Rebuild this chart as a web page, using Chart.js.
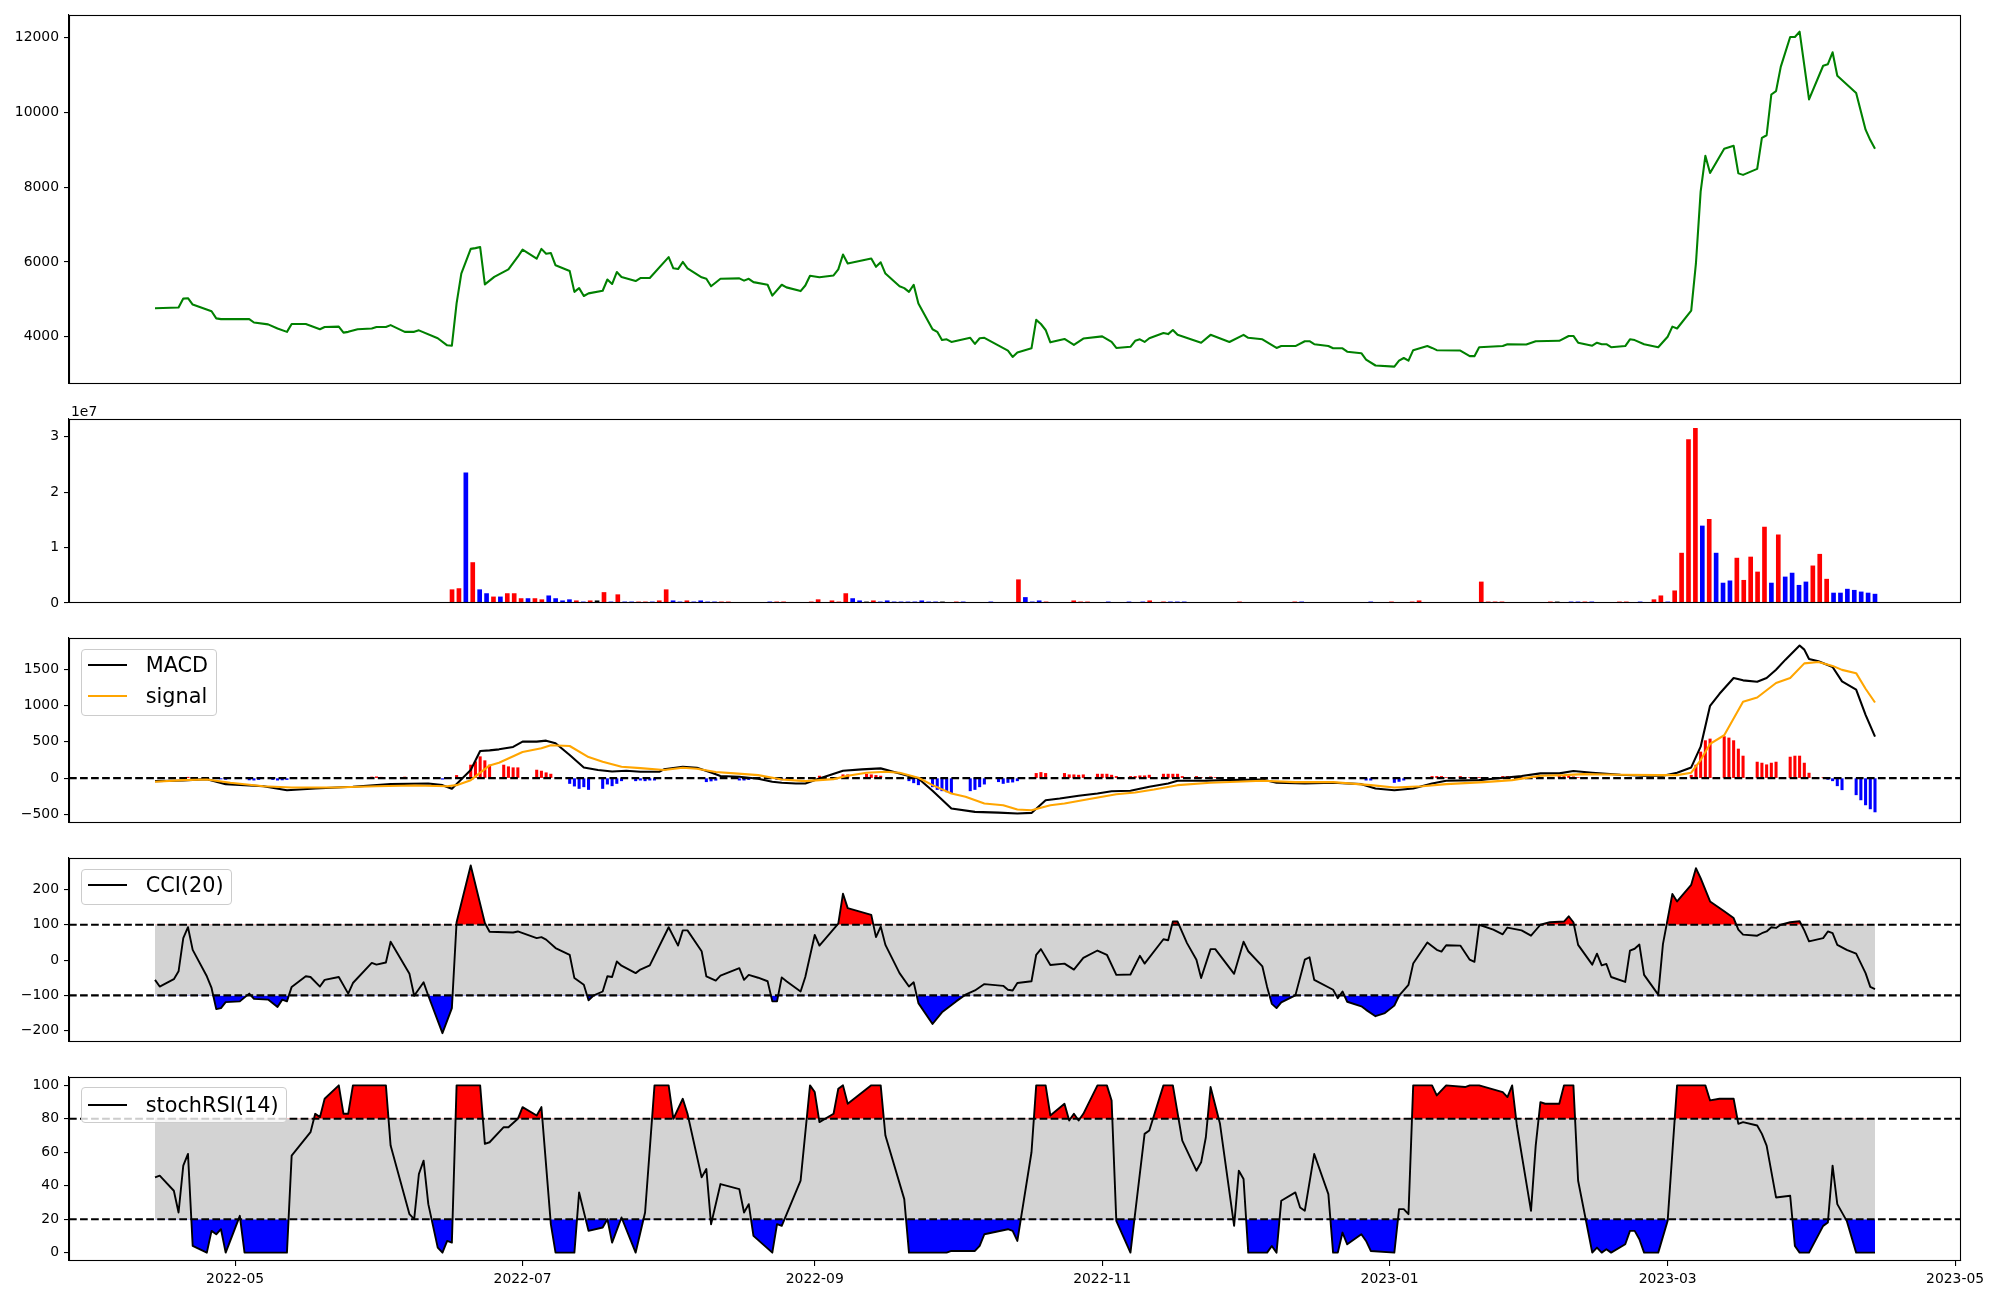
<!DOCTYPE html>
<html><head><meta charset="utf-8">
<script src="https://cdn.jsdelivr.net/npm/chart.js@4.4.0/dist/chart.umd.min.js"></script>
<style>
html,body{margin:0;padding:0;background:#fff;width:2000px;height:1300px;overflow:hidden;position:relative;font-family:'DejaVu Sans',sans-serif;}
canvas{position:absolute;left:0;}
.legend{position:absolute;border:1px solid #cccccc;border-radius:4px;background:rgba(255,255,255,0.8);box-sizing:border-box;}
.lg-line{position:absolute;}
.lg-text{position:absolute;font-size:20.8px;line-height:24px;white-space:nowrap;color:#000;}
.offset{position:absolute;font-size:13.9px;line-height:16px;color:#000;}
</style></head><body>
<script>
// ---------------- DATA ----------------
// day numbers are days since BASE_DATE
const BASE_DATE = '2022-05-01';
const xTickDays = [0, 61, 123, 184, 245, 304, 365];
const xTickLabels = ['2022-05', '2022-07', '2022-09', '2022-11', '2023-01', '2023-03', '2023-05'];

const priceDay = [-17,-12,-11,-10,-9,-5,-4,-3,3,4,7,9,11,12,15,18,19,22,23,24,26,29,30,32,33,36,38,39,43,45,46,47,48,50,51,52,53,55,58,60,61,64,65,66,67,68,71,72,73,74,75,78,79,80,81,82,85,86,88,92,93,94,95,96,99,100,101,103,107,108,109,110,113,114,116,117,120,121,122,124,127,128,129,130,135,136,137,138,141,142,143,144,145,148,149,150,151,152,156,157,158,159,164,165,166,169,170,171,172,173,176,178,180,184,186,187,190,191,192,193,194,197,198,199,200,205,207,211,214,215,218,221,222,225,227,228,229,232,233,235,236,239,240,242,246,247,248,249,250,253,254,255,260,262,263,264,269,270,274,276,281,283,284,285,288,289,290,291,292,295,296,297,299,302,304,305,306,309,310,311,312,313,316,318,319,320,323,324,325,326,327,328,330,331,332,334,337,338,339,340,344,346,347,348];
const priceVal = [4760,4780,5020,5030,4860,4680,4490,4470,4470,4380,4330,4220,4130,4340,4340,4200,4260,4270,4110,4130,4200,4220,4260,4260,4310,4130,4130,4170,3960,3770,3760,4890,5690,6350,6370,6400,5400,5600,5800,6140,6330,6090,6350,6220,6240,5910,5760,5200,5300,5090,5160,5230,5530,5410,5730,5600,5490,5570,5570,6130,5830,5810,6000,5830,5590,5550,5350,5550,5560,5500,5550,5460,5390,5100,5390,5320,5220,5370,5630,5590,5640,5800,6200,5960,6090,5870,5990,5690,5350,5300,5200,5390,4890,4200,4130,3910,3930,3860,3970,3810,3960,3970,3630,3460,3580,3690,4450,4340,4180,3850,3940,3780,3950,4010,3860,3700,3730,3890,3930,3860,3960,4100,4070,4180,4050,3840,4050,3860,4050,3970,3930,3700,3750,3750,3880,3880,3800,3750,3690,3690,3600,3560,3390,3230,3200,3360,3430,3360,3640,3750,3700,3640,3630,3480,3480,3720,3750,3800,3790,3880,3890,4020,4020,3840,3760,3840,3800,3800,3720,3750,3930,3910,3800,3720,4000,4270,4220,4700,5960,7880,8840,8380,9030,9110,8370,8330,8490,9320,9390,10480,10570,11220,12020,12020,12160,10350,11250,11290,11610,10980,10520,9540,9260,9030];

// volume panel is plotted against the trading-day index (0 .. volCount-1)
const volCount = 250;
const volIndex = [43,44,45,46,47,48,49,50,51,52,53,54,55,56,57,58,59,60,61,62,63,64,65,66,67,68,69,70,71,72,73,74,75,76,77,78,79,80,81,82,83,89,90,91,95,96,98,99,100,101,102,103,104,105,106,107,108,109,110,111,112,113,114,116,117,121,125,126,127,128,129,133,134,135,138,141,143,144,146,147,148,149,157,165,166,176,179,182,183,192,193,194,195,202,203,205,206,207,208,212,213,215,217,218,219,220,221,222,223,224,225,226,227,228,229,230,231,232,233,234,235,236,237,238,239,240,241,242,243,244,245,246,247,248,249];
const volValue = [2.4e6,2.6e6,23.5e6,7.3e6,2.4e6,1.7e6,1.1e6,1.1e6,1.7e6,1.7e6,0.8e6,0.8e6,0.8e6,0.6e6,1.3e6,0.8e6,0.4e6,0.6e6,0.4e6,0.2e6,0.4e6,0.4e6,1.9e6,0.2e6,1.5e6,0.2e6,0.2e6,0.2e6,0.2e6,0.2e6,0.4e6,2.4e6,0.4e6,0.2e6,0.4e6,0.2e6,0.4e6,0.2e6,0.2e6,0.2e6,0.2e6,0.2e6,0.2e6,0.2e6,0.2e6,0.6e6,0.4e6,0.2e6,1.7e6,0.8e6,0.4e6,0.2e6,0.4e6,0.2e6,0.4e6,0.2e6,0.2e6,0.2e6,0.2e6,0.4e6,0.2e6,0.2e6,0.2e6,0.2e6,0.2e6,0.2e6,4.2e6,1.0e6,0.2e6,0.4e6,0.2e6,0.4e6,0.2e6,0.2e6,0.2e6,0.2e6,0.2e6,0.4e6,0.2e6,0.2e6,0.2e6,0.2e6,0.2e6,0.2e6,0.2e6,0.2e6,0.2e6,0.2e6,0.4e6,3.8e6,0.2e6,0.2e6,0.2e6,0.2e6,0.2e6,0.2e6,0.2e6,0.2e6,0.2e6,0.2e6,0.2e6,0.2e6,0.6e6,1.3e6,0.2e6,2.2e6,9.0e6,29.5e6,31.5e6,13.9e6,15.1e6,9.0e6,3.6e6,4.0e6,8.1e6,4.1e6,8.3e6,5.6e6,13.7e6,3.6e6,12.3e6,4.7e6,5.4e6,3.2e6,3.8e6,6.7e6,8.8e6,4.3e6,1.8e6,1.8e6,2.5e6,2.3e6,2.0e6,1.8e6,1.6e6];
// 1 = up (red), -1 = down (blue), 0 = unchanged (black)
const volDir = [1,1,-1,1,-1,-1,1,-1,1,1,1,-1,1,1,-1,-1,-1,-1,1,-1,1,0,1,-1,1,-1,-1,1,1,-1,1,1,-1,-1,1,-1,-1,-1,-1,1,1,-1,1,1,1,1,1,1,1,-1,-1,0,1,-1,-1,-1,-1,-1,-1,-1,-1,-1,0,1,-1,-1,1,-1,-1,-1,1,1,1,1,-1,-1,-1,1,1,-1,-1,-1,1,1,-1,-1,1,1,1,1,1,1,1,1,0,-1,-1,1,-1,1,1,-1,1,1,-1,1,1,1,1,-1,1,-1,-1,-1,1,1,1,1,1,-1,1,-1,-1,-1,-1,1,1,1,-1,-1,-1,-1,-1,-1,-1];

const macdDay = [-17,-11,-6,-2,6,11,17,25,33,41,44,46,50,52,54,56,59,61,64,66,68,71,74,77,80,83,86,90,91,95,98,101,103,107,111,114,116,119,121,124,129,133,137,141,145,148,152,157,162,166,169,172,175,179,183,186,190,194,198,200,206,210,218,221,227,233,239,242,246,250,254,257,264,267,273,277,281,284,288,294,299,303,306,309,311,313,315,318,320,323,325,327,329,332,333,334,336,339,341,344,346,348];
const macdVal = [-41,-32,-14,-83,-111,-166,-143,-120,-83,-74,-97,-147,111,373,382,396,429,502,502,516,479,318,147,111,92,101,88,88,120,157,143,78,28,18,-9,-51,-65,-74,-74,-5,101,120,134,65,-5,-175,-419,-465,-475,-488,-479,-304,-281,-244,-212,-180,-175,-120,-74,-37,-37,-28,-18,-65,-74,-65,-83,-143,-166,-143,-74,-37,-28,-9,28,65,65,97,74,46,32,32,74,147,433,995,1161,1378,1346,1327,1378,1493,1631,1825,1769,1640,1608,1530,1332,1217,871,571];

const signalDay = [-17,-11,-6,-1,6,12,21,30,38,45,47,50,54,56,61,65,67,71,75,78,82,86,91,95,98,102,106,111,116,121,124,127,130,134,138,141,145,148,152,155,159,163,166,169,173,176,181,187,191,195,200,207,218,225,233,241,246,252,257,265,271,277,282,286,294,302,306,309,311,313,316,320,323,327,330,333,336,339,341,344,346,348];
const signalVal = [-51,-28,-18,-65,-111,-129,-129,-111,-101,-111,-97,-28,175,212,359,410,452,442,290,226,157,138,111,143,129,83,65,41,-18,-41,-28,-14,32,74,88,74,5,-97,-212,-258,-350,-373,-433,-442,-373,-350,-290,-221,-198,-157,-97,-65,-37,-55,-55,-97,-129,-111,-83,-55,-28,32,41,55,46,41,41,74,249,470,590,1050,1110,1310,1378,1580,1598,1545,1490,1445,1230,1041];

const histDay = [-11,-10,-9,-3,-2,3,4,5,8,9,10,11,29,30,31,36,44,47,50,51,52,53,54,57,58,59,60,64,65,66,67,71,72,73,74,75,78,79,80,81,82,85,86,87,88,89,100,101,102,107,108,109,115,116,117,124,129,130,134,135,136,137,143,144,145,148,149,150,151,152,156,157,158,159,162,163,164,165,166,169,170,171,172,176,177,178,179,180,183,184,185,186,187,190,191,192,193,194,197,198,199,200,201,204,205,207,208,240,241,246,247,248,253,254,255,256,257,260,261,262,264,269,270,271,272,273,276,277,281,282,283,284,285,309,310,311,312,313,316,317,318,319,320,323,324,325,326,327,330,331,332,333,334,337,338,339,340,341,344,345,346,347,348];
const histVal = [10,12,10,-12,-18,-25,-28,-20,-20,-28,-25,-20,15,18,12,15,-15,37,180,226,295,240,180,180,157,143,143,111,97,74,55,-74,-110,-143,-120,-157,-143,-83,-106,-74,-37,-37,-28,-37,-28,-28,-50,-40,-30,-28,-28,-20,-20,-25,-20,28,46,46,55,46,37,28,-37,-65,-92,-120,-157,-175,-189,-203,-175,-157,-120,-83,-50,-74,-60,-55,-37,9,65,78,65,65,46,46,41,46,55,55,55,41,23,23,23,32,32,41,55,55,55,55,23,23,9,18,9,-28,-28,-60,-46,-28,9,23,23,23,9,23,9,9,9,23,23,23,23,9,23,9,23,23,32,18,9,40,180,360,516,539,572,553,516,401,304,221,207,184,207,221,290,304,304,207,69,5,-18,-37,-106,-161,-230,-300,-369,-424,-466];

const cciDay = [-17,-16,-13,-12,-11,-10,-9,-6,-5,-4,-3,-2,1,3,4,7,9,10,11,12,15,16,18,19,22,24,25,29,30,32,33,37,38,40,41,44,46,47,50,53,54,59,60,64,65,66,68,71,72,74,75,76,78,79,80,81,82,85,86,88,92,94,95,96,99,100,102,103,107,108,109,111,113,114,115,116,117,120,121,123,124,128,129,130,135,136,137,138,141,143,144,145,148,150,153,155,157,159,163,164,165,166,169,170,171,173,176,178,180,183,185,187,190,192,193,197,198,199,200,202,204,205,207,208,212,214,215,218,219,220,221,222,225,227,228,229,233,234,235,236,239,240,242,244,246,247,249,250,253,255,256,257,260,262,263,264,267,269,270,273,275,277,279,282,283,284,285,288,289,290,291,292,295,296,297,298,299,302,303,305,306,309,310,311,313,316,318,319,320,323,324,325,326,327,328,330,332,333,334,337,338,339,340,342,344,346,347,348];
const cciVal = [-56,-75,-54,-32,62,93,29,-46,-79,-139,-136,-119,-117,-95,-110,-112,-133,-112,-117,-76,-46,-48,-75,-56,-48,-95,-65,-8,-13,-7,52,-39,-101,-63,-101,-207,-136,107,268,105,80,78,81,62,65,58,34,15,-51,-70,-114,-101,-89,-46,-48,-4,-16,-37,-27,-15,93,41,84,84,25,-46,-58,-44,-23,-56,-42,-50,-60,-117,-117,-49,-60,-89,-48,71,41,103,188,147,128,65,95,43,-37,-75,-63,-122,-181,-148,-117,-98,-86,-68,-73,-84,-86,-65,-60,15,31,-14,-10,-27,6,27,15,-42,-41,12,-10,59,56,109,109,48,1,-51,31,31,-39,52,25,-18,-76,-124,-136,-120,-100,1,8,-56,-84,-108,-89,-118,-131,-141,-159,-150,-129,-101,-70,-10,50,29,24,42,41,1,-5,100,86,73,92,84,69,100,107,109,124,107,43,-13,18,-15,-11,-48,-62,27,32,44,-42,-98,45,187,166,213,260,232,166,138,119,86,72,69,76,81,93,91,100,107,110,84,53,62,81,76,43,29,18,-37,-76,-82];

const stochDay = [-17,-16,-13,-12,-11,-10,-9,-6,-5,-4,-3,-2,1,2,11,12,16,17,18,19,22,23,24,25,32,33,37,38,39,40,41,43,44,45,46,47,52,53,54,57,58,60,61,64,65,67,68,72,73,75,78,79,80,82,85,86,87,89,92,93,95,96,99,100,101,103,107,108,109,110,114,115,116,120,122,123,124,127,128,129,130,135,137,138,142,143,151,152,157,158,159,164,165,166,169,170,172,173,176,177,178,179,180,183,185,186,187,190,193,194,197,199,201,204,205,206,207,209,212,213,214,215,219,220,221,222,225,226,227,229,232,233,234,235,236,239,240,241,246,247,248,249,250,254,255,257,261,262,264,269,270,271,272,275,276,277,278,281,282,284,285,288,289,290,291,292,295,296,297,298,299,302,304,305,306,312,313,315,318,319,320,323,324,325,327,330,331,332,334,337,338,339,340,342,344,348];
const stochVal = [45,46,37,24,52,59,4,0,13,11,14,0,22,0,0,58,72,83,81,92,100,83,83,100,100,64,23,20,47,55,29,3,0,7,6,100,100,65,66,75,75,80,87,82,87,17,0,0,36,13,15,20,6,21,0,12,24,100,100,80,92,83,45,50,17,41,38,24,29,10,0,17,16,43,100,96,78,83,98,100,89,100,100,70,32,0,0,1,1,4,11,14,13,7,60,100,100,82,89,79,83,79,83,100,100,91,19,0,71,73,100,100,67,49,54,69,99,77,16,49,44,0,0,4,0,31,36,27,25,59,35,0,0,12,5,11,7,1,0,26,26,23,100,100,94,100,99,100,100,96,93,100,76,25,64,90,89,89,100,100,43,0,3,0,2,0,5,13,13,8,0,0,19,60,100,100,91,92,92,77,78,76,71,64,33,34,4,0,0,16,18,52,29,19,0,0];

const cciLevels = [100, -100];
const stochLevels = [80, 20];
const macdLevel = 0;

// ---------------- HELPERS ----------------
const FONT = {family: 'DejaVu Sans', size: 13.9};
const dayMin = -35.25, dayMax = 366.25;          // matplotlib 5% margins around the date range
const idxMin = -0.05 * (volCount - 1), idxMax = (volCount - 1) * 1.05;
const pts = (xs, ys) => xs.map((x, i) => ({x, y: ys[i]}));
const RED = '#ff0000', BLUE = '#0000ff', BLACK = '#000000', GREEN = '#008000', ORANGE = '#ffa500', GRAY = '#d3d3d3';
const LW = 2.08, LW_IND = 1.9;
const minus = v => (v < 0 ? '\u2212' + Math.abs(v) : String(v));

function addCanvas(top, height) {
  const c = document.createElement('canvas');
  c.width = 2000; c.height = height;
  c.style.width = '2000px'; c.style.height = height + 'px';
  c.style.top = top + 'px';
  document.body.appendChild(c);
  return c;
}
const framePlugin = {
  id: 'frame',
  afterDraw(chart) {
    const a = chart.chartArea, ctx = chart.ctx;
    ctx.save();
    ctx.strokeStyle = BLACK; ctx.lineWidth = 1.1;
    const l = Math.round(a.left) + 0.5, t = Math.round(a.top) + 0.5;
    const r = Math.round(a.right) - 0.5, b = Math.round(a.bottom) - 0.5;
    ctx.strokeRect(l, t, r - l, b - t);
    ctx.restore();
  }
};
function yAxis(min, max, ticks, fmt) {
  return {
    type: 'linear', min, max,
    afterBuildTicks: s => { s.ticks = ticks.map(v => ({value: v})); },
    afterFit: s => { s.width = 69; },
    ticks: {callback: fmt || minus, color: BLACK, font: FONT, padding: 5, autoSkip: false},
    grid: {display: true, drawOnChartArea: false, drawTicks: true, tickLength: 5, color: BLACK, lineWidth: 1.1},
    border: {display: true, color: BLACK, width: 1.1}
  };
}
function hiddenX(min, max) { return {type: 'linear', min, max, offset: false, display: false}; }
function baseOptions(scales, padBottom) {
  return {
    responsive: false, animation: false, events: [],
    layout: {padding: {top: 14, bottom: padBottom, left: 0, right: 39}},
    plugins: {legend: {display: false}, tooltip: {enabled: false}},
    elements: {point: {radius: 0}, line: {tension: 0}},
    scales
  };
}
const lineDs = (data, color, width, order, extra) => Object.assign({type: 'line', data, borderColor: color, borderWidth: width, pointRadius: 0, fill: false, order, borderJoinStyle: 'round'}, extra || {});
const levelDs = (v, order) => lineDs([{x: dayMin, y: v}, {x: dayMax, y: v}], BLACK, LW, order, {borderDash: [7.7, 3.33], borderJoinStyle: 'miter'});

// ---------------- PANEL 1: price ----------------
new Chart(addCanvas(1, 397), {
  type: 'line',
  data: {datasets: [lineDs(pts(priceDay, priceVal), GREEN, LW, 1)]},
  options: baseOptions({x: hiddenX(dayMin, dayMax), y: yAxis(2735, 12607, [4000, 6000, 8000, 10000, 12000])}, 14),
  plugins: [framePlugin]
});

// ---------------- PANEL 2: volume ----------------
new Chart(addCanvas(405, 212), {
  type: 'bar',
  data: {datasets: [{
    type: 'bar', data: pts(volIndex, volValue),
    backgroundColor: volDir.map(d => d > 0 ? RED : (d < 0 ? BLUE : BLACK)),
    borderWidth: 0, barThickness: 4, grouped: false
  }]},
  options: baseOptions({x: hiddenX(idxMin, idxMax), y: yAxis(0, 3.32e7, [0, 1e7, 2e7, 3e7], v => String(Math.round(v / 1e7)))}, 14),
  plugins: [framePlugin]
});

// ---------------- PANEL 3: MACD ----------------
new Chart(addCanvas(624, 213), {
  type: 'line',
  data: {datasets: [
    lineDs(pts(signalDay, signalVal), ORANGE, LW, 1),
    lineDs(pts(macdDay, macdVal), BLACK, LW, 2),
    levelDs(macdLevel, 3),
    {type: 'bar', data: pts(histDay, histVal), backgroundColor: histVal.map(v => v >= 0 ? RED : BLUE), borderWidth: 0, barThickness: 2.4, grouped: false, order: 4}
  ]},
  options: baseOptions({x: hiddenX(dayMin, dayMax), y: yAxis(-618, 1929, [-500, 0, 500, 1000, 1500])}, 14),
  plugins: [framePlugin]
});

// ---------------- PANEL 4: CCI ----------------
function bandPanel(canvas, days, vals, levels, yMin, yMax, yTicks, width, xAxis, padBottom) {
  const data = pts(days, vals);
  const band = [{x: days[0], y: levels[0]}, {x: days[days.length - 1], y: levels[0]}];
  return new Chart(canvas, {
    type: 'line',
    data: {datasets: [
      lineDs(data, BLACK, width, 1),
      levelDs(levels[0], 2),
      levelDs(levels[1], 2),
      lineDs(data, 'rgba(0,0,0,0)', 0, 3, {fill: {target: {value: levels[0]}, above: RED, below: 'rgba(0,0,0,0)'}}),
      lineDs(data, 'rgba(0,0,0,0)', 0, 4, {fill: {target: {value: levels[1]}, above: 'rgba(0,0,0,0)', below: BLUE}}),
      lineDs(band, 'rgba(0,0,0,0)', 0, 5, {fill: {target: {value: levels[1]}}, backgroundColor: GRAY})
    ]},
    options: baseOptions({x: xAxis, y: yAxis(yMin, yMax, yTicks)}, padBottom),
    plugins: [framePlugin]
  });
}
bandPanel(addCanvas(844, 212), cciDay, cciVal, cciLevels, -232, 289, [-200, -100, 0, 100, 200], LW_IND, hiddenX(dayMin, dayMax), 14);

// ---------------- PANEL 5: stochRSI ----------------
const bottomX = {
  type: 'linear', min: dayMin, max: dayMax, offset: false,
  afterBuildTicks: s => { s.ticks = xTickDays.map(v => ({value: v})); },
  afterFit: s => { s.height = 39; },
  ticks: {callback: v => xTickLabels[xTickDays.indexOf(v)], color: BLACK, font: FONT, padding: 5, autoSkip: false, maxRotation: 0},
  grid: {display: true, drawOnChartArea: false, drawTicks: true, tickLength: 5, color: BLACK, lineWidth: 1.1},
  border: {display: true, color: BLACK, width: 1.1}
};
bandPanel(addCanvas(1063, 237), stochDay, stochVal, stochLevels, -5, 105, [0, 20, 40, 60, 80, 100], LW_IND, bottomX, 0);

// ---------------- legends & offset text ----------------
function legend(box, rows) {
  const d = document.createElement('div');
  d.className = 'legend';
  Object.assign(d.style, {left: box.left + 'px', top: box.top + 'px', width: box.width + 'px', height: box.height + 'px'});
  document.body.appendChild(d);
  rows.forEach(r => {
    const ln = document.createElement('div');
    ln.className = 'lg-line';
    Object.assign(ln.style, {left: '87.6px', top: (r.cy - r.w / 2) + 'px', width: '39.8px', height: r.w + 'px', background: r.color});
    document.body.appendChild(ln);
    const tx = document.createElement('div');
    tx.className = 'lg-text';
    tx.textContent = r.label;
    Object.assign(tx.style, {left: '145.7px', top: (r.cy - 12) + 'px'});
    document.body.appendChild(tx);
  });
}
legend({left: 81, top: 649, width: 136, height: 67}, [{label: 'MACD', color: BLACK, cy: 664.7, w: LW}, {label: 'signal', color: ORANGE, cy: 695.7, w: LW}]);
legend({left: 81, top: 869, width: 151, height: 36}, [{label: 'CCI(20)', color: BLACK, cy: 884.7, w: LW}]);
legend({left: 81, top: 1087, width: 206, height: 36}, [{label: 'stochRSI(14)', color: BLACK, cy: 1104.7, w: LW}]);

const off = document.createElement('div');
off.className = 'offset';
off.textContent = '1e7';
Object.assign(off.style, {left: '71px', top: '403px'});
document.body.appendChild(off);
</script>
</body></html>
